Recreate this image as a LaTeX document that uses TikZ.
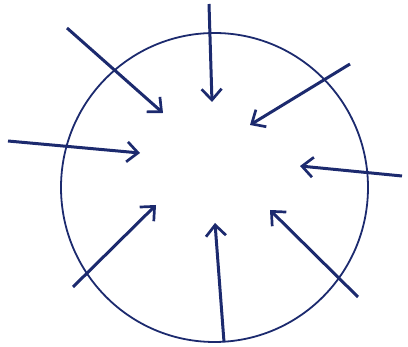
\documentclass[tikz,border=0pt]{standalone}
\usetikzlibrary{arrows.meta,shapes.geometric}
\definecolor{ink}{HTML}{1C2A6E}
\tikzset{
  inarrow/.style={draw=ink, line width=3pt, -{Straight Barb[length=11pt,width=20pt,line width=2.7pt]}},
  ringstyle/.style={draw=ink, line width=1.8pt, ellipse, minimum width=307pt, minimum height=309pt, inner sep=0pt}
}
\begin{document}
\begin{tikzpicture}[x=1pt,y=-1pt]
\useasboundingbox (0,0) rectangle (408,347);
\node[ringstyle] (ring) at (214.5,187.5) {};
% start and tip coordinates
\coordinate (s1) at (67,28);   \coordinate (t1) at (163,113);
\coordinate (s2) at (209,4);   \coordinate (t2) at (212,102);
\coordinate (s3) at (350,64);  \coordinate (t3) at (250,125);
\coordinate (s4) at (8,141);   \coordinate (t4) at (140,153);
\coordinate (s5) at (402,176); \coordinate (t5) at (300,166);
\coordinate (s6) at (73,287);  \coordinate (t6) at (156,205);
\coordinate (s7) at (224,342); \coordinate (t7) at (215,223);
\coordinate (s8) at (358,297); \coordinate (t8) at (270,210);
\foreach \i in {1,...,8} {\draw[inarrow] (s\i) -- (t\i);}
\end{tikzpicture}
\end{document}
